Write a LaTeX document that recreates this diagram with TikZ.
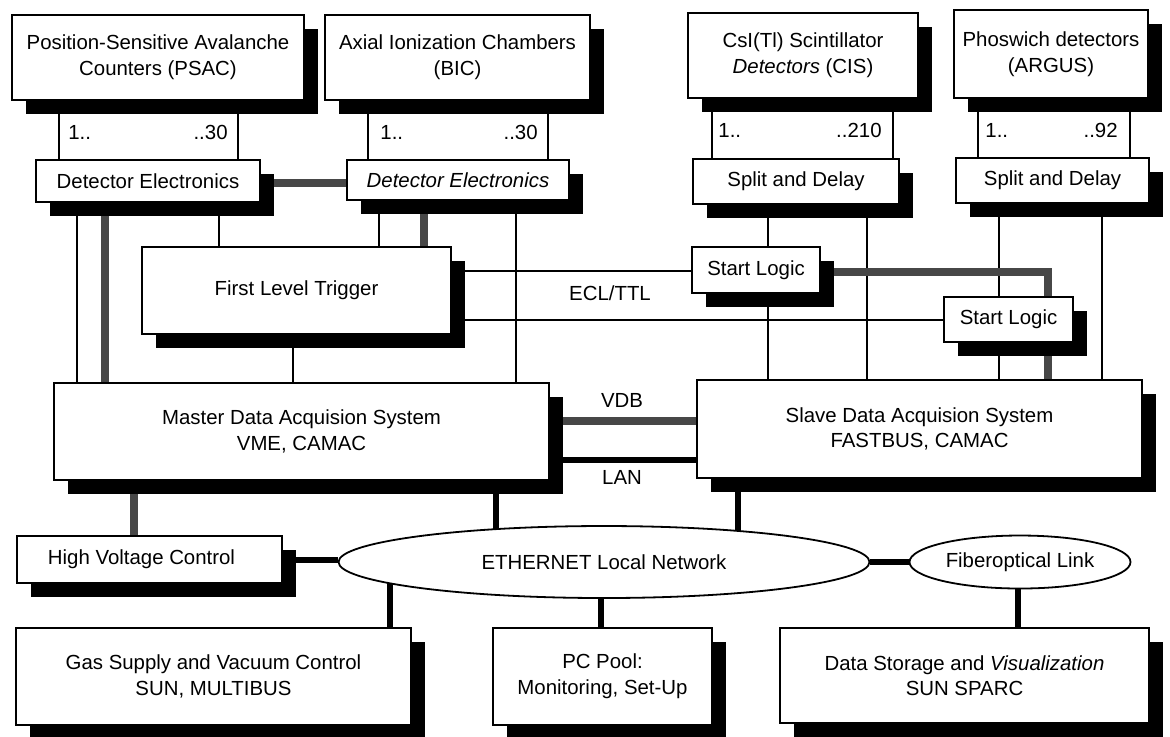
\documentclass[tikz,border=0pt]{standalone}
\usepackage{fontspec}
\setmainfont{Liberation Sans}
\usetikzlibrary{shadows,shapes.geometric,backgrounds}
\newcommand\txtfont{\fontsize{10.2}{12.8}\selectfont}
\tikzset{
  box/.style={draw, line width=0.9pt, fill=white, inner sep=0pt, align=center, font=\txtfont,
    drop shadow={shadow xshift=6.8pt, shadow yshift=-6.8pt, fill=black, opacity=1}},
  oval/.style={ellipse, draw, line width=0.9pt, fill=white, inner sep=0pt, font=\txtfont},
  lbl/.style={inner sep=0pt, font=\txtfont},
  wire/.style={line width=1pt},
  bus/.style={line width=2.8pt},
  gbus/.style={line width=4.2pt, draw=black!72},
}
\newcommand\mybox[6]{%
  \pgfmathsetmacro\bw{(#4-#2)*0.5}%
  \pgfmathsetmacro\bh{(#5-#3)*0.5}%
  \node[box, minimum width=\bw pt, minimum height=\bh pt] (#1) at ({(#2+#4)/2},{(#3+#5)/2}) {#6};}
\begin{document}
\begin{tikzpicture}[x=0.5pt,y=-0.5pt]
\useasboundingbox (0,0) rectangle (1170,736);
% top detectors
\mybox{psac}{12}{15}{304}{100}{Position-Sensitive Avalanche\\Counters (PSAC)}
\mybox{bic}{325}{15}{590}{100}{Axial Ionization Chambers\\(BIC)}
\mybox{cis}{688}{13}{918}{98}{CsI(Tl) Scintillator\\\textit{Detectors} (CIS)}
\mybox{argus}{954}{10}{1148}{98}{Phoswich detectors\\(ARGUS)}
% electronics
\mybox{de1}{36}{160}{260}{202}{Detector Electronics}
\mybox{de2}{347}{160}{569}{200}{\textit{Detector Electronics}}
\mybox{sd1}{693}{159}{899}{204}{Split and Delay}
\mybox{sd2}{956}{158}{1149}{203}{Split and Delay}
% trigger
\mybox{flt}{142}{247}{451}{334}{First Level Trigger}
\mybox{sl1}{692}{247}{820}{293}{Start Logic}
\mybox{sl2}{944}{297}{1073}{342}{Start Logic}
% DAQ
\mybox{master}{54}{383}{549}{480}{Master Data Acquision System\\VME, CAMAC}
\mybox{slave}{697}{380}{1142}{478}{Slave Data Acquision System\\FASTBUS, CAMAC}
% bottom
\mybox{hvc}{17}{536}{282}{583}{High Voltage Control\hspace*{8pt}}
\node[oval, minimum width=265.5pt, minimum height=36pt] (eth) at (604,562) {ETHERNET Local Network};
\node[oval, minimum width=110.5pt, minimum height=26.5pt] (fiber) at (1020,562) {Fiberoptical Link};
\mybox{gas}{16}{628}{411}{725}{Gas Supply and Vacuum Control\\SUN, MULTIBUS}
\mybox{pc}{493}{628}{712}{725}{PC Pool:\\Monitoring, Set-Up}
\mybox{ds}{780}{628}{1149}{723}{Data Storage and \textit{Visualization}\\SUN SPARC}
% channel labels
\node[lbl, anchor=west] (ch1a) at (68,132) {1..};
\node[lbl, anchor=east] (ch1b) at (228,132) {..30};
\node[lbl, anchor=west] (ch2a) at (380,132) {1..};
\node[lbl, anchor=east] (ch2b) at (538,132) {..30};
\node[lbl, anchor=west] (ch3a) at (718,130) {1..};
\node[lbl, anchor=east] (ch3b) at (882,130) {..210};
\node[lbl, anchor=west] (ch4a) at (985,130) {1..};
\node[lbl, anchor=east] (ch4b) at (1118,130) {..92};
% link labels
\node[lbl] (ecl) at (610,293) {ECL/TTL};
\node[lbl] (vdb) at (622,400) {VDB};
\node[lbl] (lan) at (622,477) {LAN};
\begin{scope}[on background layer]
\fill[white] (0,0) rectangle (1170,736);
% channel bundles
\draw[wire] (psac.south -| 59,0) -- (de1.north -| 59,0);
\draw[wire] (psac.south -| 238,0) -- (de1.north -| 238,0);
\draw[wire] (bic.south -| 368,0) -- (de2.north -| 368,0);
\draw[wire] (bic.south -| 548,0) -- (de2.north -| 548,0);
\draw[wire] (cis.south -| 712,0) -- (sd1.north -| 712,0);
\draw[wire] (cis.south -| 893,0) -- (sd1.north -| 893,0);
\draw[wire] (argus.south -| 978,0) -- (sd2.north -| 978,0);
\draw[wire] (argus.south -| 1130,0) -- (sd2.north -| 1130,0);
% electronics links
\draw[gbus] (de1.east |- 0,183) -- (de2.west |- 0,183);
\draw[wire] (de1.south -| 77,0) -- (master.north -| 77,0);
\draw[gbus] (de1.south -| 105,0) -- (master.north -| 105,0);
\draw[wire] (de1.south -| 219,0) -- (flt.north -| 219,0);
\draw[wire] (de2.south -| 379,0) -- (flt.north -| 379,0);
\draw[gbus] (de2.south -| 424,0) -- (flt.north -| 424,0);
\draw[wire] (de2.south -| 516,0) -- (master.north -| 516,0);
\draw[wire] (flt.south -| 293,0) -- (master.north -| 293,0);
% trigger links
\draw[wire] (flt.east |- 0,271) -- (sl1.west |- 0,271);
\draw[wire] (flt.east |- 0,320) -- (sl2.west |- 0,320);
\draw[wire] (sd1.south -| 768,0) -- (sl1.north -| 768,0);
\draw[wire] (sl1.south -| 768,0) -- (slave.north -| 768,0);
\draw[wire] (sd1.south -| 867,0) -- (slave.north -| 867,0);
\draw[wire] (sd2.south -| 999,0) -- (sl2.north -| 999,0);
\draw[wire] (sl2.south -| 999,0) -- (slave.north -| 999,0);
\draw[wire] (sd2.south -| 1102,0) -- (slave.north -| 1102,0);
\draw[gbus] (sl1.east |- 0,272) -| (sl2.north -| 1048,0);
\draw[gbus] (sl2.south -| 1048,0) -- (slave.north -| 1048,0);
% DAQ links
\draw[gbus] (master.east |- 0,421) -- (slave.west |- 0,421);
\draw[bus] (master.east |- 0,460) -- (slave.west |- 0,460);
\draw[gbus] (master.south -| 134,0) -- (hvc.north -| 134,0);
\draw[bus] (master.south -| 496,0) -- (eth.center -| 496,0);
\draw[bus] (slave.south -| 738,0) -- (eth.center -| 738,0);
\draw[bus] (hvc.east |- 0,560) -- (eth.west |- 0,560);
\draw[bus] (eth.east) -- (fiber.west);
\draw[bus] (eth.center -| 390,0) -- (gas.north -| 390,0);
\draw[bus] (eth.center -| 601,0) -- (pc.north -| 601,0);
\draw[bus] (fiber.south -| 1018,0) -- (ds.north -| 1018,0);
\end{scope}
\end{tikzpicture}
\end{document}
